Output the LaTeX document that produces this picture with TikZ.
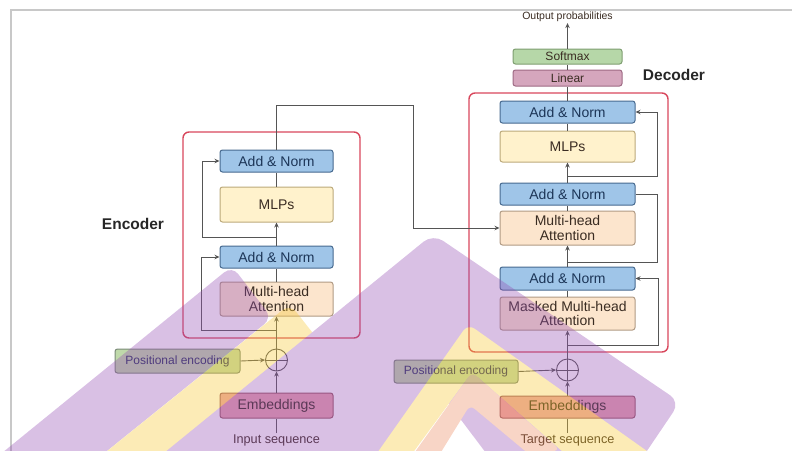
\documentclass[tikz,border=0pt]{standalone}
\usepackage{fontspec}
\setmainfont{Liberation Sans}
\usetikzlibrary{arrows.meta}

% block colours
\definecolor{anFill}{HTML}{9FC5E8}
\definecolor{anLine}{HTML}{46698F}
\definecolor{anText}{HTML}{1C3557}
\definecolor{mlpFill}{HTML}{FFF2CC}
\definecolor{mlpLine}{HTML}{BBA97A}
\definecolor{attFill}{HTML}{FCE5CD}
\definecolor{attLine}{HTML}{B09A84}
\definecolor{smFill}{HTML}{B6D7A8}
\definecolor{smLine}{HTML}{7E9E70}
\definecolor{linFill}{HTML}{D5A6BD}
\definecolor{linLine}{HTML}{9E6A84}
\definecolor{embFill}{HTML}{E8A2AE}
\definecolor{embLine}{HTML}{9A5A66}
\definecolor{peFill}{HTML}{BFD9AA}
\definecolor{peLine}{HTML}{7A8A78}
\definecolor{txtDark}{HTML}{3A2C22}
\definecolor{peText}{HTML}{283060}
\definecolor{stackRed}{HTML}{D8475C}
\definecolor{wire}{HTML}{555555}
\definecolor{frameGray}{HTML}{C8C8C8}
% logo colours
\definecolor{wmP}{HTML}{9650B4}
\definecolor{wmY}{HTML}{F6C834}
\definecolor{wmS}{HTML}{EC8A60}

\begin{document}
\begin{tikzpicture}[x=1pt,y=-1pt,
  box/.style={draw, rounded corners=2.5pt, line width=1pt, align=center,
    inner sep=0pt, font=\fontsize{14}{14.5}\selectfont},
  addnorm/.style={box, fill=anFill, draw=anLine, text=anText},
  mlp/.style={box, fill=mlpFill, draw=mlpLine, text=txtDark},
  att/.style={box, fill=attFill, draw=attLine, text=txtDark},
  emb/.style={box, fill=embFill, draw=embLine, text=txtDark},
  posenc/.style={box, fill=peFill, draw=peLine, text=peText,
    font=\fontsize{12}{12}\selectfont},
  headbox/.style={box, font=\fontsize{12}{12}\selectfont, text=txtDark},
  stack/.style={draw=stackRed, line width=1.4pt, rounded corners=6pt},
  plus/.style={circle, draw=wire, line width=0.9pt, minimum size=22pt, inner sep=0pt},
  conn/.style={draw=wire, line width=0.9pt},
  arr/.style={conn, -{Stealth[length=5pt,width=4.5pt]}},
  caption/.style={font=\fontsize{12.7}{13}\selectfont, text=txtDark, inner sep=1pt},
  title/.style={font=\fontsize{15.5}{16}\selectfont\bfseries, text=black!85}
]
\useasboundingbox (0,0) rectangle (792,450);

% page frame
\draw[frameGray, line width=1.5pt] (11,452) -- (11,10) -- (794,10);

% ---------------- encoder ----------------
\node[stack, minimum width=177pt, minimum height=206pt] (eBox) at (271.5,235) {};
\node[addnorm, minimum width=113pt, minimum height=22pt] (eAN2) at (276.5,161) {Add \& Norm};
\node[mlp, minimum width=113pt, minimum height=35pt] (eMLP) at (276.5,204.5) {MLPs};
\node[addnorm, minimum width=113pt, minimum height=22pt] (eAN1) at (276.5,257) {Add \& Norm};
\node[att, minimum width=113pt, minimum height=34pt] (eMHA) at (276.5,299) {Multi-head\\Attention};
\node[plus] (ePlus) at (276.5,360) {};
\node[posenc, minimum width=125pt, minimum height=24pt] (ePE) at (177.5,361) {Positional encoding};
\node[emb, minimum width=113pt, minimum height=25pt] (eEmb) at (276.5,405.5) {Embeddings};
\node[caption] (eIn) at (276.5,440) {Input sequence};
\node[title] (eTitle) at (133,224) {Encoder};

\draw[conn] (ePlus.north) -- (ePlus.south) (ePlus.west) -- (ePlus.east);
\draw[conn] (eIn.north) -- (eEmb.south);
\draw[arr] (eEmb.north) -- (ePlus.south);
\draw[arr] (ePE.east) -- (ePlus.west);
\draw[arr] (ePlus.north) -- (eMHA.south);
\draw[conn] (eMHA.north) -- (eAN1.south);
\draw[arr] (eAN1.north) -- (eMLP.south);
\draw[conn] (eMLP.north) -- (eAN2.south);
\coordinate (eS1) at (276.5,330);
\coordinate (eK1) at (201,330);
\coordinate (eS2) at (276.5,237);
\coordinate (eK2) at (202,237);
\draw[arr] (eS1) -- (eK1) |- (eAN1.west);
\draw[arr] (eS2) -- (eK2) |- (eAN2.west);

% ---------------- decoder ----------------
\node[stack, minimum width=199pt, minimum height=259pt] (dBox) at (568.5,222.5) {};
\node[addnorm, minimum width=135pt, minimum height=22pt] (dAN3) at (567.5,112) {Add \& Norm};
\node[mlp, minimum width=135pt, minimum height=31pt] (dMLP) at (567.5,146.5) {MLPs};
\node[addnorm, minimum width=135pt, minimum height=22pt] (dAN2) at (567.5,194) {Add \& Norm};
\node[att, minimum width=135pt, minimum height=34pt] (dMHA) at (567.5,228) {Multi-head\\Attention};
\node[addnorm, minimum width=135pt, minimum height=23pt] (dAN1) at (567.5,278.5) {Add \& Norm};
\node[att, minimum width=135pt, minimum height=33pt] (dMMHA) at (567.5,313.5) {Masked Multi-head\\Attention};
\node[headbox, fill=linFill, draw=linLine, minimum width=109pt, minimum height=16pt] (dLin) at (567.5,78) {Linear};
\node[headbox, fill=smFill, draw=smLine, minimum width=109pt, minimum height=15pt] (dSoft) at (567.5,56.5) {Softmax};
\node[font=\fontsize{10.5}{11}\selectfont, text=txtDark, inner sep=1pt] (dOut) at (567.5,17) {Output probabilities};
\node[plus] (dPlus) at (567.5,370) {};
\node[posenc, minimum width=124pt, minimum height=23pt] (dPE) at (456,371.5) {Positional encoding};
\node[emb, minimum width=135pt, minimum height=22pt] (dEmb) at (567.5,407) {Embeddings};
\node[caption] (dIn) at (567.5,440) {Target sequence};
\node[title] (dTitle) at (674,75) {Decoder};

\draw[conn] (dPlus.north) -- (dPlus.south) (dPlus.west) -- (dPlus.east);
\draw[conn] (dIn.north) -- (dEmb.south);
\draw[arr] (dEmb.north) -- (dPlus.south);
\draw[arr] (dPE.east) -- (dPlus.west);
\draw[arr] (dPlus.north) -- (dMMHA.south);
\draw[conn] (dMMHA.north) -- (dAN1.south);
\draw[arr] (dAN1.north) -- (dMHA.south);
\draw[conn] (dMHA.north) -- (dAN2.south);
\draw[arr] (dAN2.north) -- (dMLP.south);
\draw[conn] (dMLP.north) -- (dAN3.south);
\draw[conn] (dAN3.north) -- (dLin.south);
\draw[conn] (dLin.north) -- (dSoft.south);
\draw[arr] (dSoft.north) -- (dOut.south);
\coordinate (dS1) at (567.5,345);
\coordinate (dK1) at (658,345);
\coordinate (dS2) at (567.5,262);
\coordinate (dK2) at (657,262);
\coordinate (dS3) at (567.5,176);
\coordinate (dK3) at (657,176);
\draw[arr] (dS1) -- (dK1) |- (dAN1.east);
\draw[conn] (dS2) -- (dK2) |- (dAN2.east);
\draw[arr] (dS3) -- (dK3) |- (dAN3.east);

% encoder output into the decoder cross attention
\coordinate (xA) at (276.5,105);
\coordinate (xB) at (413,105);
\coordinate (xC) at (413,228);
\draw[arr] (eAN2.north) -- (xA) -- (xB) -- (xC) -- (dMHA.west);

% ---------------- translucent logo ----------------
\begin{scope}[transparency group, opacity=0.36]
  \clip (0,0) rectangle (792,450);
  \fill[wmP, rounded corners=10pt] (-62,505) -- (232,266) -- (272,318) -- (40,505) -- cycle;
  \fill[wmY, rounded corners=10pt] (40,505) -- (290,304) -- (323,346) -- (127,505) -- cycle;
  \fill[wmP, rounded corners=12pt] (94,510) -- (433,234) -- (680,402) -- (607,510)
        -- (529,510) -- (440,392) -- (375,510) -- cycle;
  \fill[wmY, rounded corners=8pt] (337,510) -- (468,324) -- (730,510) -- (629,510)
        -- (472,372) -- (371,510) -- cycle;
  \fill[wmS, rounded corners=6pt] (395,480) -- (472,372) -- (560,450) -- (530,455)
        -- (470,405) -- (430,470) -- cycle;
\end{scope}
\end{tikzpicture}
\end{document}
